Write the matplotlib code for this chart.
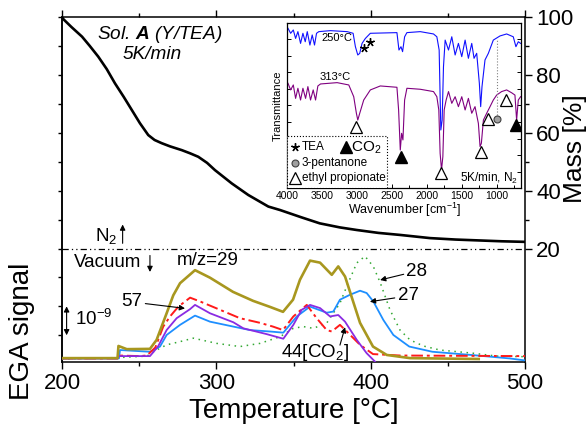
import numpy as np
import matplotlib
matplotlib.use('Agg')
import matplotlib.pyplot as plt
from matplotlib.ticker import MultipleLocator, FixedLocator, NullFormatter
from matplotlib.patches import Rectangle

plt.rcParams['font.family'] = ['Liberation Sans', 'DejaVu Sans']
plt.rcParams['mathtext.fontset'] = 'custom'
plt.rcParams['mathtext.rm'] = 'Liberation Sans'
plt.rcParams['mathtext.it'] = 'Liberation Sans:italic'
plt.rcParams['mathtext.bf'] = 'Liberation Sans:italic:bold'
plt.rcParams['mathtext.default'] = 'regular'

# ---- TG curve (mass %) ----
temp_mass = [200, 201, 206, 213, 218, 223.5, 229, 234.3, 240, 245.2, 250.5, 255.9, 260,
             264.6, 270, 277.6, 283, 288.3, 294, 299.1, 310, 320.7, 333.7, 341.3, 355,
             367, 380, 391, 405, 419, 438.5, 455, 470, 485, 500]
mass = [100, 99.2, 96.6, 93.2, 90.0, 86.3, 82.0, 77.1, 72.4, 67.9, 63.3, 59.2, 57.5,
        56.4, 55.3, 54.0, 52.9, 51.7, 49.6, 47.1, 42.5, 38.5, 34.5, 33.3, 30.8,
        28.7, 27.3, 26.4, 25.4, 24.7, 23.6, 23.1, 22.8, 22.5, 22.3]

# ---- EGA (MS ion currents, units of 1e-9 above baseline) ----
t29 = [200, 236, 236.6, 242, 257, 261.3, 267.8, 272.1, 276.5, 286.2, 295.9, 310.8, 323.8,
       334.8, 343.2, 349.7, 354.2, 360.7, 367.2, 374.8, 379, 383.4, 393.1, 401.5, 410.4,
       425.5, 470]
e29 = [0.03, 0.03, 0.45, 0.34, 0.35, 0.66, 1.58, 2.2, 2.62, 3.07, 2.81, 2.32, 2.01,
       1.8, 1.63, 2.05, 2.74, 3.40, 3.33, 2.91, 3.20, 2.85, 1.25, 0.43, 0.14,
       0.03, 0.0]

t44 = [200, 236, 236.6, 250, 255, 260.5, 265.6, 270, 275.4, 283, 289.4, 302.4, 315.3,
       328.3, 336.7, 343.2, 349.9, 358.6, 365, 371.5, 374.8, 380.1, 384.5, 393.1, 401.5,
       419, 500]
e44 = [0.02, 0.02, 0.12, 0.1, 0.12, 0.4, 1.12, 1.47, 1.81, 2.12, 1.99, 1.70, 1.41,
       1.25, 1.12, 1.0, 1.47, 1.87, 1.41, 1.0, 0.95, 1.18, 0.95, 0.49, 0.17,
       0.12, 0.1]

t57 = [200, 236, 236.6, 250, 257, 262.2, 267.8, 274.3, 282.9, 286.2, 295.9, 311, 317.5,
       332.6, 343.4, 349.9, 355.3, 360.7, 367.2, 373.7, 379, 383.4, 391, 397.4, 402.8]
e57 = [0.02, 0.02, 0.1, 0.1, 0.1, 0.43, 1.0, 1.41, 1.72, 1.87, 1.58, 1.27, 1.06,
       0.86, 0.70, 1.18, 1.70, 1.87, 1.76, 1.47, 1.52, 1.29, 0.66, 0.2, -0.09]

t27 = [200, 236.9, 237.6, 257, 263.5, 267.8, 276.5, 286.2, 295.9, 311, 321.8, 334.8,
       343.4, 352.1, 360.7, 371.5, 375.8, 380.1, 386.6, 393.1, 397.4, 401.7, 408.2,
       414.7, 425, 440, 465, 490, 500]
e27 = [0.02, 0.02, 0.31, 0.25, 0.43, 0.83, 1.18, 1.50, 1.29, 1.12, 1.0, 0.95,
       0.91, 1.47, 1.81, 1.60, 1.64, 2.05, 2.22, 2.36, 2.28, 1.99, 1.35,
       0.83, 0.43, 0.25, 0.14, 0.02, -0.05]

t28 = [200, 237, 255, 261.3, 267.8, 276.5, 285.1, 300.2, 315.3, 328.3, 341.3, 349.9,
       356.4, 362.8, 371.5, 380.1, 384.5, 391, 396.3, 401.7, 406.1, 412.5, 419, 425.5,
       434.1, 444.9, 466.3, 481.7, 500]
e28 = [0.0, 0.05, 0.1, 0.31, 0.49, 0.60, 0.72, 0.54, 0.43, 0.54, 0.77, 1.06,
       1.12, 1.06, 1.24, 1.93, 2.51, 3.32, 3.55, 3.20, 2.65, 1.70, 1.0, 0.66,
       0.45, 0.31, 0.2, 0.1, 0.08]

# ---- inset IR spectra ----
wn_250 = [3990, 3952, 3914, 3881, 3848, 3810, 3776, 3743, 3714, 3676, 3643, 3610, 3581,
          3548, 3381, 3143, 3057, 3024, 2990, 2962, 2929, 2881, 2810, 2429, 2400, 2371,
          2348, 2319, 2286, 2095, 1905, 1857, 1824, 1800, 1781, 1762, 1738, 1690, 1643,
          1595, 1548, 1500, 1452, 1405, 1357, 1324, 1286, 1248, 1229, 1210, 1167, 1119,
          1048, 952, 857, 762, 724, 690, 657]
tr_250 = [96.6, 93.6, 95.6, 90.5, 94.6, 87.5, 93.6, 88.5, 94.6, 86.5, 92.6, 86.5, 93.6,
          94.6, 95.2, 94.6, 93.6, 85.5, 80.5, 81.5, 87.5, 90.5, 93.6, 94.0, 83.5, 85.5,
          82.5, 91.5, 94.0, 94.6, 93.2, 91.5, 83.5, 35.2, 41.2, 73.4, 89.5, 83.5, 91.5,
          80.5, 87.5, 79.5, 89.5, 78.5, 87.5, 78.5, 81.5, 63.4, 49.3, 61.4, 77.5, 81.5,
          89.5, 92.0, 93.2, 91.5, 85.5, 88.5, 87.5]

wn_313 = [3990, 3952, 3914, 3881, 3848, 3810, 3776, 3738, 3705, 3667, 3629, 3595, 3562,
          3524, 3286, 3119, 3048, 3010, 2990, 2962, 2905, 2810, 2667, 2429, 2405, 2381,
          2362, 2343, 2319, 2286, 2095, 1905, 1857, 1829, 1810, 1790, 1771, 1752, 1724,
          1690, 1643, 1595, 1548, 1500, 1452, 1405, 1357, 1310, 1262, 1238, 1219, 1190,
          1143, 1095, 1048, 1000, 929, 857, 786, 738, 714, 690, 657]
tr_313 = [63.4, 59.4, 62.4, 54.3, 60.4, 53.3, 60.4, 54.3, 61.4, 53.3, 59.4, 53.3, 61.8,
          63.0, 63.8, 62.4, 55.3, 45.3, 41.2, 45.3, 53.3, 59.4, 61.8, 61.0, 47.3, 23.1,
          33.2, 29.2, 53.3, 60.4, 59.8, 58.4, 55.3, 47.3, 21.1, 11.1, 19.1, 47.3, 53.3,
          58.4, 51.3, 55.3, 49.3, 55.3, 47.3, 54.3, 45.3, 49.3, 39.2, 25.2, 27.2, 41.2,
          45.3, 49.3, 53.3, 56.3, 58.4, 59.4, 57.7, 56.3, 41.2, 53.3, 55.3]

tea_wn = [2895, 2819]
tea_tr = [84.5, 88.5]
ep_wn = [3010, 1795, 1224, 1119, 871]
ep_tr = [37.2, 9.1, 22.1, 41.6, 53.3]
co2_wn = [2371, 724]
co2_tr = [19.1, 38.2]
pent_wn = [990]
pent_tr = [41.8]

fig = plt.figure(figsize=(5.88, 4.29), dpi=100)
ax = fig.add_axes([0.1054, 0.1569, 0.7875, 0.8035])

# EGA curves on twin axis (created first, twinx resets tick sides)
ax_e = ax.twinx()
ax_e.set_ylim(-0.093, 11.82)
ax_e.set_yticks([])
for s in ax_e.spines.values():
    s.set_visible(False)

# mass curve
ax.plot(temp_mass, mass, color='black', lw=1.9, zorder=3)
ax.axhline(20, color='black', lw=0.9, ls=(0, (5, 2.5, 1, 2.5, 1, 2.5)), zorder=2)
ax.set_xlim(200, 500)
ax.set_ylim(-19.1, 100)

ax.xaxis.set_major_locator(MultipleLocator(100))
ax.xaxis.set_minor_locator(MultipleLocator(50))
ax.yaxis.set_major_locator(FixedLocator([20, 40, 60, 80, 100]))
ax.yaxis.set_minor_locator(FixedLocator([30, 50, 70, 90]))
ax.yaxis.tick_right()
ax.tick_params(which='both', direction='out', top=True, bottom=True,
               left=False, right=True, labelleft=False, labelright=True, width=1)
ax.tick_params(which='major', length=5, labelsize=16, pad=3)
ax.tick_params(which='minor', length=3)
for s in ax.spines.values():
    s.set_linewidth(1.1)

sec = ax.secondary_yaxis('left')
sec.set_yticks(np.arange(-10, 101, 10))
sec.yaxis.set_major_formatter(NullFormatter())
sec.tick_params(direction='out', length=3, width=1)
sec.spines['left'].set_linewidth(1.1)

ax.set_xlabel('Temperature [°C]', fontsize=20, labelpad=3)
fig.text(575 / 588, 1 - 149 / 429, 'Mass [%]', fontsize=19, rotation=90,
         ha='center', va='center')
fig.text(22 / 588, 1 - 331 / 429, 'EGA signal', fontsize=20, rotation=90,
         ha='center', va='center')

ax_e.plot(t28, e28, color='#33a833', lw=1.1, ls=(0, (1, 3)))
ax_e.plot(t27, e27, color='#1e8fff', lw=1.3)
ax_e.plot(t44, e44, color='#ff1a1a', lw=1.4, ls=(0, (6, 2, 1.5, 2)))
ax_e.plot(t57, e57, color='#8a2be2', lw=1.3)
ax_e.plot(t29, e29, color='#a8971f', lw=1.9)

arr = dict(arrowstyle='-|>', color='black', lw=0.8, mutation_scale=8,
           shrinkA=0, shrinkB=0)
ax_e.text(294.6, 3.39, 'm/z=29', fontsize=13.5, ha='center', va='center')
ax_e.annotate('57', xy=(279.7, 1.75), xytext=(245.4, 1.97), fontsize=13.5,
              ha='center', va='center', arrowprops=arr)
ax_e.annotate('28', xy=(406.1, 2.73), xytext=(430, 3.04), fontsize=13.5,
              ha='center', va='center', arrowprops=arr)
ax_e.annotate('27', xy=(399.5, 1.98), xytext=(424.2, 2.18), fontsize=13.5,
              ha='center', va='center', arrowprops=arr)
ax_e.text(363.9, 0.24, '44[CO$_2$]', fontsize=13.5, ha='center', va='center')
ax_e.annotate('', xy=(383.4, 1.1), xytext=(380.1, 0.48), arrowprops=arr)
ax_e.annotate('', xy=(203, 1.82), xytext=(203, 0.82),
              arrowprops=dict(arrowstyle='<|-|>', color='black', lw=0.8,
                              mutation_scale=8, shrinkA=0, shrinkB=0))
ax_e.text(208.5, 1.38, '10$^{-9}$', fontsize=13.5, ha='left', va='center')

ax.text(228.5, 24.3, 'N$_2$', fontsize=13.5, ha='center', va='center')
ax.annotate('', xy=(239.3, 28.3), xytext=(239.3, 21.8), arrowprops=arr)
ax.text(229.8, 15.0, 'Vacuum', fontsize=13.5, ha='center', va='center')
ax.annotate('', xy=(257, 11.9), xytext=(257, 17.6), arrowprops=arr)
ax.text(263.2, 94.0, 'Sol. $\\mathbf{A}$ (Y/TEA)', fontsize=13.7, style='italic',
        ha='center', va='center')
ax.text(258.6, 86.9, '5K/min', fontsize=13.7, style='italic', ha='center', va='center')

# inset FTIR
ax_in = fig.add_axes([0.4886, 0.5611, 0.397, 0.386])
ax_in.plot(wn_250, tr_250, color='#1010ff', lw=0.8)
ax_in.plot(wn_313, tr_313, color='#800080', lw=0.8)
ax_in.plot([1000, 1000], [44.3, 89.5], color='gray', lw=0.8, ls=':')
ax_in.plot(tea_wn, tea_tr, ls='none', marker=(5, 2, 0), color='black', ms=6, mew=1)
ax_in.plot(ep_wn, ep_tr, ls='none', marker='^', mfc='white', mec='black', ms=8, mew=0.9)
ax_in.plot(co2_wn, co2_tr, ls='none', marker='^', color='black', ms=8)
ax_in.plot(pent_wn, pent_tr, ls='none', marker='o', mfc='#a0a0a0', mec='#404040', ms=5, mew=0.8)
ax_in.text(3286, 91.0, '250°C', fontsize=8, ha='center', va='center')
ax_in.text(3310, 67.4, '313°C', fontsize=8, ha='center', va='center')
ax_in.set_xlim(4000, 655)
ax_in.set_ylim(0, 100)
ax_in.xaxis.set_major_locator(MultipleLocator(500))
ax_in.xaxis.set_minor_locator(MultipleLocator(250))
ax_in.yaxis.set_major_locator(MultipleLocator(10))
ax_in.tick_params(which='both', direction='in', left=True, right=True, labelleft=False,
                  labelsize=7.5, pad=2, width=0.7)
ax_in.tick_params(which='major', length=3)
ax_in.tick_params(which='minor', length=2)
ax_in.set_xlabel('Wavenumber [cm$^{-1}$]', fontsize=9, labelpad=0)
ax_in.set_ylabel('Transmittance', fontsize=8, labelpad=3)
for s in ax_in.spines.values():
    s.set_linewidth(0.9)

# inset legend box
ax_in.add_patch(Rectangle((0.0, 0.0), 0.427, 0.316, transform=ax_in.transAxes,
                          facecolor='white', edgecolor='black', lw=0.8, ls=':', zorder=5))
ax_in.plot([0.033], [0.251], transform=ax_in.transAxes, marker=(5, 2, 0), color='black',
           ms=6, mew=1, zorder=6)
ax_in.text(0.062, 0.251, 'TEA', transform=ax_in.transAxes, fontsize=8.5, va='center', zorder=6)
ax_in.plot([0.251], [0.251], transform=ax_in.transAxes, marker='^', color='black', ms=8, zorder=6)
ax_in.text(0.273, 0.245, 'CO$_2$', transform=ax_in.transAxes, fontsize=11, va='center', zorder=6)
ax_in.plot([0.033], [0.151], transform=ax_in.transAxes, marker='o', mfc='#a0a0a0', mec='#404040',
           ms=5, mew=0.8, zorder=6)
ax_in.text(0.062, 0.151, '3-pentanone', transform=ax_in.transAxes, fontsize=8.5, va='center', zorder=6)
ax_in.plot([0.033], [0.06], transform=ax_in.transAxes, marker='^', mfc='white', mec='black',
           ms=8, mew=0.9, zorder=6)
ax_in.text(0.062, 0.06, 'ethyl propionate', transform=ax_in.transAxes, fontsize=8.5,
           va='center', zorder=6)
ax_in.text(0.99, 0.06, '5K/min, N$_2$', transform=ax_in.transAxes, fontsize=8.5,
           ha='right', va='center')

fig.savefig('out.png', dpi=100)
